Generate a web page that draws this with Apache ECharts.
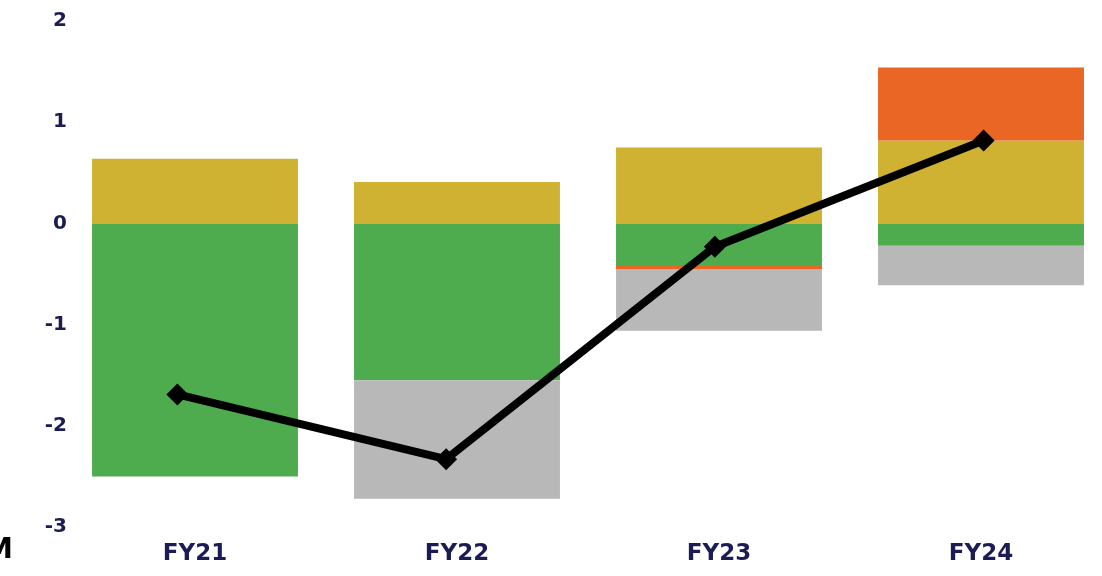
<!DOCTYPE html>
<html>
<head>
<meta charset="utf-8">
<script src="https://cdn.jsdelivr.net/npm/echarts@6/dist/echarts.min.js"></script>
<style>html,body{margin:0;padding:0;background:#fff;}#c{width:1102px;height:576px;}</style>
</head>
<body>
<div id="c"></div>
<script>
var categories = ['FY21', 'FY22', 'FY23', 'FY24'];
var yellowVals = [0.64, 0.41, 0.75, 0.82];
var greenVals = [-2.50, -1.55, -0.42, -0.22];
var orangeVals = [0, 0, -0.03, 0.72];
var grayVals = [0, -1.17, -0.61, -0.39];
var lineVals = [-1.69, -2.33, -0.23, 0.82];

var navy = '#1C1C54';
var font = 'DejaVu Sans';
var chart = echarts.init(document.getElementById('c'), null, {renderer: 'canvas'});
chart.setOption({
  backgroundColor: '#ffffff',
  animation: false,
  grid: [
    {left: 64, width: 1048, top: 21, bottom: 49, outerBoundsMode: 'none', containLabel: false},
    {left: 43, width: 1075, top: 21, bottom: 49, outerBoundsMode: 'none', containLabel: false}
  ],
  xAxis: [
    {type: 'category', gridIndex: 0, data: categories,
     axisLine: {show: false}, axisTick: {show: false},
     axisLabel: {color: navy, fontFamily: font, fontWeight: 'bold', fontSize: 23, margin: 16}},
    {type: 'category', gridIndex: 1, data: categories, show: false}
  ],
  yAxis: [
    {type: 'value', gridIndex: 0, min: -3, max: 2, interval: 1,
     axisLine: {show: false}, axisTick: {show: false}, splitLine: {show: false},
     axisLabel: {color: navy, fontFamily: font, fontWeight: 'bold', fontSize: 20, margin: -3}},
    {type: 'value', gridIndex: 1, min: -3, max: 2, interval: 1, show: false}
  ],
  series: [
    {type: 'bar', name: 'yellow', stack: 's', data: yellowVals, barWidth: '78.6%',
     itemStyle: {color: '#CFB232'}},
    {type: 'bar', name: 'green', stack: 's', data: greenVals,
     itemStyle: {color: '#4FAC4E'}},
    {type: 'bar', name: 'orange', stack: 's', data: orangeVals,
     itemStyle: {color: '#E96624'}},
    {type: 'bar', name: 'gray', stack: 's', data: grayVals,
     itemStyle: {color: '#B8B8B8'}},
    {type: 'line', name: 'total', xAxisIndex: 1, yAxisIndex: 1, data: lineVals,
     symbol: 'diamond', symbolSize: 22,
     lineStyle: {color: '#000', width: 8},
     itemStyle: {color: '#000'}, z: 10}
  ],
  graphic: [
    {type: 'text', left: -15, top: 537,
     style: {text: 'M', fill: '#000', font: 'bold 28px "DejaVu Sans"'}}
  ]
});
</script>
</body>
</html>
